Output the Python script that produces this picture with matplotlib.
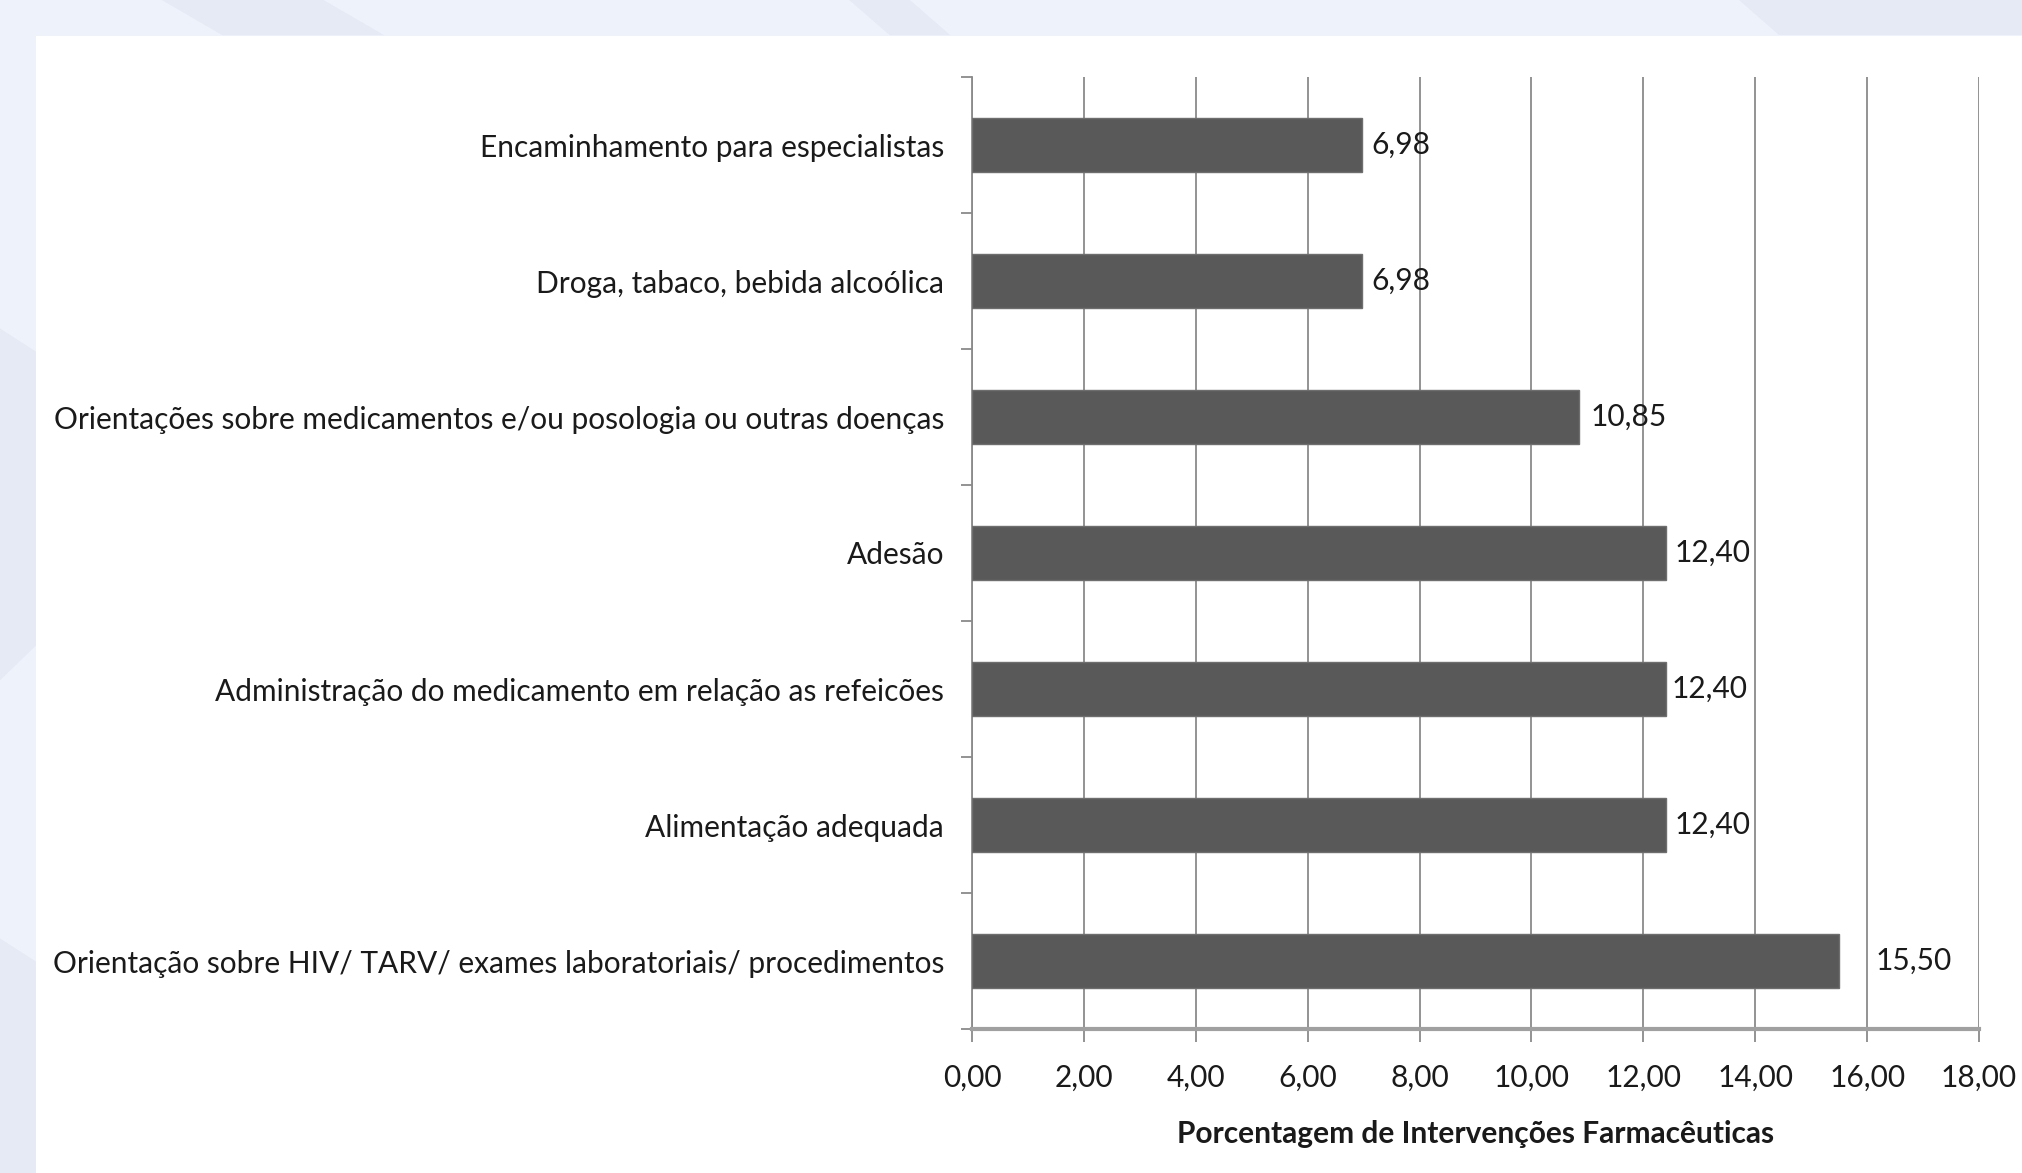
import numpy as np
import matplotlib
matplotlib.use("Agg")
from matplotlib import pyplot as plt
from matplotlib.patches import Rectangle, Polygon
from matplotlib.ticker import FuncFormatter, FixedLocator

# dados (de baixo para cima)
categorias = [
    "Orientação sobre HIV/ TARV/ exames laboratoriais/ procedimentos",
    "Alimentação adequada",
    "Administração do medicamento em relação as refeicões",
    "Adesão",
    "Orientações sobre medicamentos e/ou posologia ou outras doenças",
    "Droga, tabaco, bebida alcoólica",
    "Encaminhamento para especialistas",
]
valores = [15.50, 12.40, 12.40, 12.40, 10.85, 6.98, 6.98]
xticks = [0, 2, 4, 6, 8, 10, 12, 14, 16, 18]
xlabel = "Porcentagem de Intervenções Farmacêuticas"

# deslocamento dos rotulos (em unidades de x)
desloc = [0.65, 0.15, 0.1, 0.15, 0.2, 0.15, 0.15]

plt.rcParams['font.family'] = ['Lato', 'DejaVu Sans']
fs = 21.5

fig = plt.figure(figsize=(20.22, 11.73), dpi=100)
fig.patch.set_facecolor('#eef2fa')

# fundo com faixas diagonais
for pts in [
    [(0.08, 1.0), (0.16, 1.0), (0.19, 0.97), (0.11, 0.97)],
    [(0.42, 1.0), (0.45, 1.0), (0.47, 0.97), (0.44, 0.97)],
    [(0.86, 1.0), (1.0, 1.0), (1.0, 0.97), (0.88, 0.97)],
    [(0.0, 0.72), (0.018, 0.70), (0.018, 0.45), (0.0, 0.42)],
    [(0.0, 0.20), (0.018, 0.18), (0.018, 0.0), (0.0, 0.0)],
]:
    fig.patches.append(Polygon(pts, closed=True, transform=fig.transFigure,
                               facecolor='#e5eaf5', edgecolor='none', zorder=0))
fig.patches.append(Rectangle((36 / 2022, 0), 1, 1 - 36 / 1173, transform=fig.transFigure,
                             facecolor='white', edgecolor='none', zorder=1))

ax = fig.add_axes([972 / 2022, 1 - 1029 / 1173, (1979 - 972) / 2022, (1029 - 77) / 1173])
ax.set_facecolor('none')
ax.set_zorder(2)

y = np.arange(len(categorias))
ax.barh(y, valores, height=0.4, color='#595959', edgecolor='#6e6e6e', linewidth=1, zorder=3)

for i, v in enumerate(valores):
    ax.text(v + desloc[i], y[i], f"{v:.2f}".replace('.', ','), va='center', ha='left',
            fontsize=fs, color='#1a1a1a', zorder=4)

ax.set_xlim(0, 18)
ax.set_ylim(-0.5, len(categorias) - 0.5)
ax.set_xticks(xticks)
ax.xaxis.set_major_formatter(FuncFormatter(lambda v, p: f"{v:.2f}".replace('.', ',')))
ax.set_yticks(y)
ax.set_yticklabels(categorias)
ax.yaxis.set_minor_locator(FixedLocator(np.arange(-0.5, len(categorias), 1.0)))

ax.grid(axis='x', color='#8a8a8a', linewidth=1.3, zorder=0)
ax.set_axisbelow(True)

for s in ['top', 'right']:
    ax.spines[s].set_visible(False)
ax.spines['left'].set_color('#8a8a8a')
ax.spines['left'].set_linewidth(1.3)
ax.spines['bottom'].set_color('#a0a0a0')
ax.spines['bottom'].set_linewidth(3)

ax.tick_params(axis='y', which='major', length=0, pad=20, labelsize=fs, labelcolor='#1a1a1a')
ax.tick_params(axis='y', which='minor', length=8, width=1.3, color='#8a8a8a', direction='out')
ax.tick_params(axis='x', length=9, width=1.3, color='#8a8a8a', direction='out', pad=16,
               labelsize=fs, labelcolor='#1a1a1a')

ax.set_xlabel(xlabel, fontsize=fs, fontweight='bold', color='#1a1a1a', labelpad=20)

fig.savefig("out.png", dpi=100, facecolor=fig.get_facecolor())
